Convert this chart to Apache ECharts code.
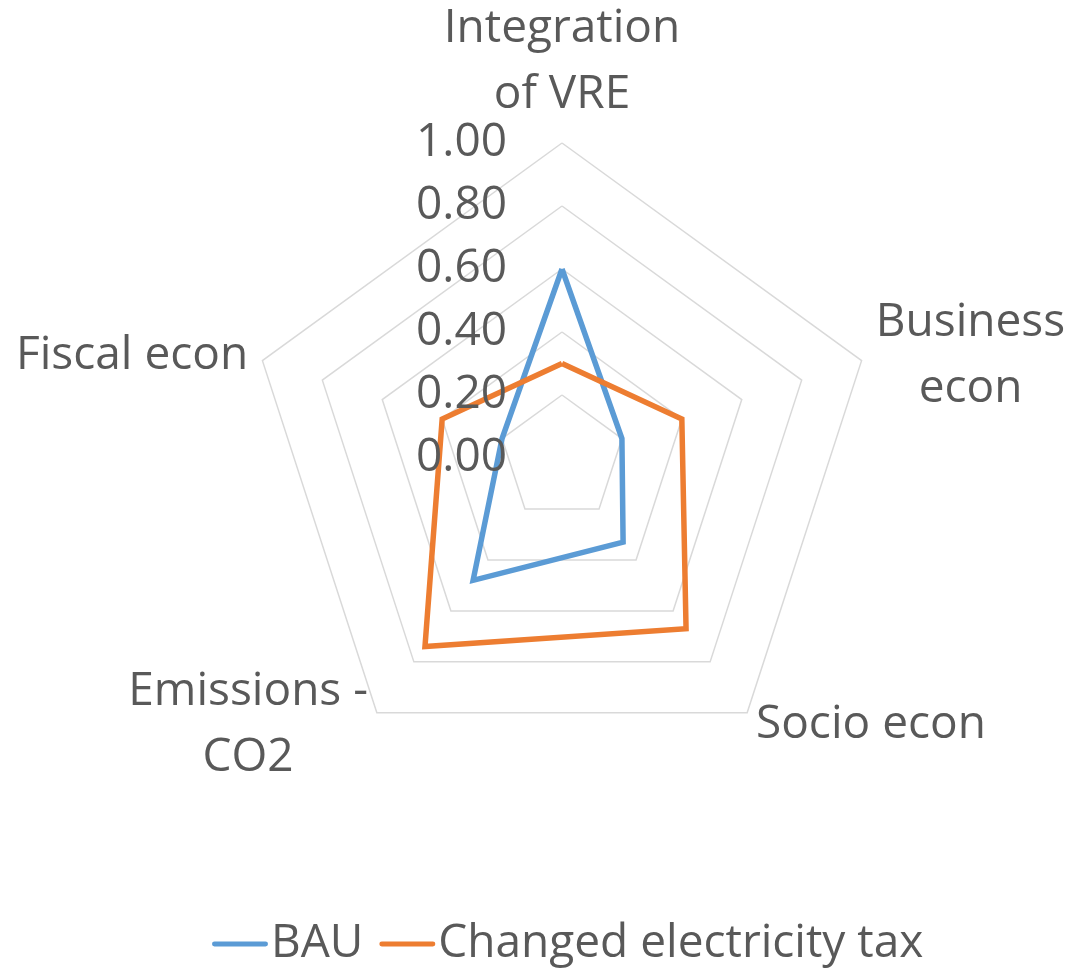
<!DOCTYPE html>
<html>
<head>
<meta charset="utf-8">
<script src="https://cdn.jsdelivr.net/npm/echarts@6/dist/echarts.min.js"></script>
<style>
html,body{margin:0;padding:0;background:#fff;}
#chart{width:1076px;height:970px;}
</style>
</head>
<body>
<div id="chart"></div>
<script>
// Indicators listed clockwise starting from the top
const categories = ['Integration\nof VRE', 'Business\necon', 'Socio econ', 'Emissions -\nCO2', 'Fiscal econ'];
const seriesNames = ['BAU', 'Changed electricity tax'];
const bauValues = [0.60, 0.20, 0.33, 0.48, 0.20];
const taxValues = [0.30, 0.40, 0.67, 0.74, 0.40];
const tickLabels = ['0.00', '0.20', '0.40', '0.60', '0.80', '1.00'];

// ECharts radar places indicators counter-clockwise; reorder to get clockwise layout
function toCCW(arr) { return [arr[0]].concat(arr.slice(1).reverse()); }

const FONT = '"Open Sans"';
const TXT = '#595959';
const SIZE = 46;

const chart = echarts.init(document.getElementById('chart'), null, {renderer: 'canvas'});
const option = {
  backgroundColor: '#fff',
  animation: false,
  color: ['#5B9BD5', '#ED7D31'],
  textStyle: {fontFamily: FONT},
  legend: {
    data: seriesNames,
    top: 916,
    left: 207,
    icon: 'path://M2,0 L54,0 A2.5,2.5 0 0 1 54,5 L2,5 A2.5,2.5 0 0 1 2,0 Z',
    itemWidth: 56,
    itemHeight: 5,
    itemGap: 16,
    textStyle: {fontFamily: FONT, fontSize: SIZE, color: TXT, padding: [0, 0, 0, -2]}
  },
  radar: {
    center: [562, 458],
    radius: 315,
    startAngle: 90,
    splitNumber: 5,
    shape: 'polygon',
    indicator: toCCW(categories).map(n => ({name: n, min: 0, max: 1})),
    axisName: {
      color: TXT,
      fontFamily: FONT,
      fontSize: SIZE,
      formatter: function (name) {
        return name.split('\n').map(l => '{n|' + l + '}').join('\n');
      },
      rich: {n: {fontFamily: FONT, fontSize: SIZE, color: TXT, lineHeight: 66, align: 'center'}}
    },
    nameGap: 15,
    axisLine: {show: false},
    axisTick: {show: false},
    axisLabel: {show: false},
    splitArea: {show: false},
    splitLine: {lineStyle: {color: '#d9d9d9', width: 1.5}}
  },
  polar: {center: [562, 458], radius: 315},
  angleAxis: {
    startAngle: 90, min: 0, max: 360,
    axisLine: {show: false}, axisTick: {show: false}, axisLabel: {show: false}, splitLine: {show: false}
  },
  radiusAxis: {
    type: 'value', min: 0, max: 1, interval: 0.2, z: 10,
    axisLine: {show: false}, axisTick: {show: false}, splitLine: {show: false},
    axisLabel: {
      show: true, fontFamily: FONT, fontSize: SIZE, color: TXT, margin: 55,
      formatter: function (v) { return tickLabels[Math.round(v / 0.2)]; }
    }
  },
  series: [{
    type: 'radar',
    symbol: 'none',
    lineStyle: {width: 5.5, join: 'miter'},
    data: [
      {name: seriesNames[0], value: toCCW(bauValues), lineStyle: {color: '#5B9BD5', width: 5.5, join: 'miter'}, itemStyle: {color: '#5B9BD5'}},
      {name: seriesNames[1], value: toCCW(taxValues), lineStyle: {color: '#ED7D31', width: 5.5, join: 'miter'}, itemStyle: {color: '#ED7D31'}}
    ]
  }]
};
chart.setOption(option);
</script>
</body>
</html>
